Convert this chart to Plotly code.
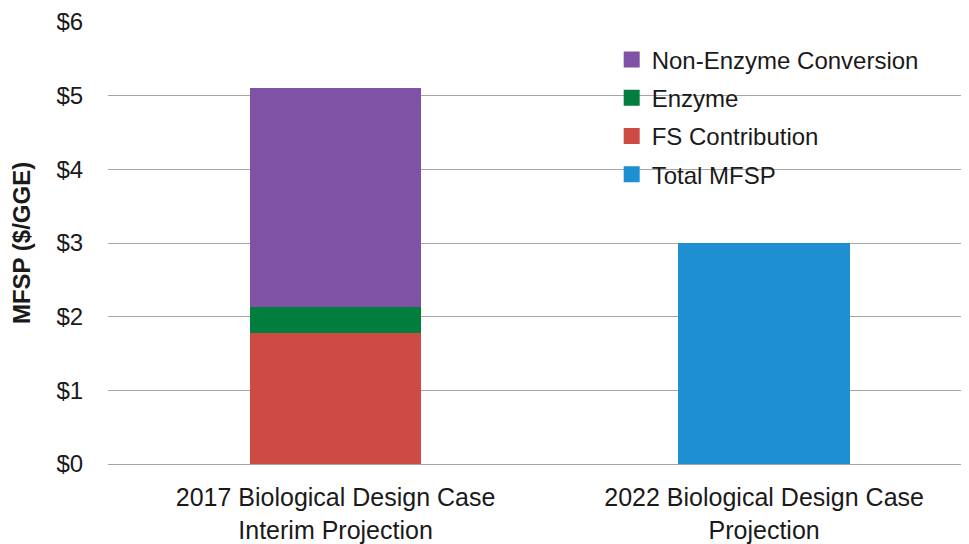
import plotly.graph_objects as go

categories = ["2017 Biological Design Case<br>Interim Projection",
              "2022 Biological Design Case<br>Projection"]
fs_contribution = [1.78, None]
enzyme = [0.35, None]
non_enzyme = [2.97, None]
total_mfsp = [None, 3.00]
tick_vals = [0, 1, 2, 3, 4, 5, 6]
tick_text = ["$0", "$1", "$2", "$3", "$4", "$5", "$6"]

FONT = "Liberation Sans, Arial, sans-serif"

series = [
    ("FS Contribution", fs_contribution, "#cd4a45", 3, "c"),
    ("Enzyme", enzyme, "#017d3e", 2, "b"),
    ("Non-Enzyme Conversion", non_enzyme, "#7f52a6", 1, "a"),
    ("Total MFSP", total_mfsp, "#1e8fd0", 4, "d"),
]

fig = go.Figure()
for name, vals, color, rank, grp in series:
    fig.add_trace(go.Bar(x=categories, y=vals, name=name,
                         marker=dict(color=color, line=dict(width=0)),
                         showlegend=False, legendgroup=grp))
# legend entries with larger square swatches
for name, vals, color, rank, grp in series:
    fig.add_trace(go.Scatter(x=[None], y=[None], mode="markers", name=name,
                             marker=dict(symbol="square", size=18, color=color),
                             legendrank=rank, legendgroup=grp, showlegend=True))

fig.update_layout(
    barmode="stack",
    bargap=0.6,
    width=961, height=536,
    margin=dict(l=100, r=0, t=14, b=80),
    paper_bgcolor="white", plot_bgcolor="white",
    font=dict(family=FONT, size=20, color="#1a1a1a"),
    legend=dict(x=0.585, y=0.965, xanchor="left", yanchor="top",
                font=dict(size=24), bgcolor="rgba(0,0,0,0)",
                traceorder="grouped", tracegroupgap=4, itemwidth=30),
    xaxis=dict(range=[-0.531, 1.478], showgrid=False, zeroline=False,
               showline=False, ticks="outside", ticklen=11, tickcolor="white",
               tickfont=dict(size=25)),
    yaxis=dict(range=[0, 6], tickvals=tick_vals, ticktext=tick_text,
               showgrid=True, gridcolor="#a6a6a6", gridwidth=1,
               zeroline=True, zerolinecolor="#a6a6a6", zerolinewidth=1,
               showline=False, ticks="outside", ticklen=19, tickcolor="white",
               tickfont=dict(size=24),
               title=dict(text="<b>MFSP ($/GGE)</b>", font=dict(size=24), standoff=20)),
)

fig.write_html("out.html")
